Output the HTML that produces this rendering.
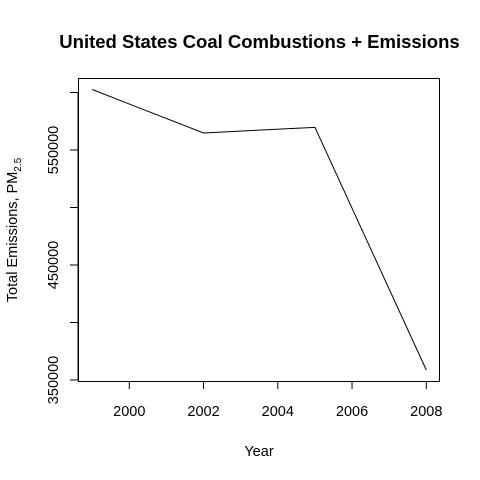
<!DOCTYPE html>
<html><head><meta charset="utf-8"><style>body{margin:0;background:#fff}svg{display:block;font-family:"Liberation Sans",Arial,sans-serif}</style></head>
<body>
<svg id="chart" width="480" height="480" xmlns="http://www.w3.org/2000/svg">
<text x="259.5" y="48" text-anchor="middle" font-size="18.5" font-weight="bold">United States Coal Combustions + Emissions</text>
<rect x="78.5" y="78.5" width="361" height="303" fill="none" stroke="#000"/>
<text x="259" y="456" text-anchor="middle" font-size="14.5">Year</text>
<text transform="translate(17,230) rotate(-90)" text-anchor="middle" font-size="14.5">Total Emissions, PM<tspan font-size="10" dy="4">2.5</tspan></text>
<g id="axes"></g>
<polyline id="line" fill="none" stroke="#000" stroke-width="1"/>
</svg>
<script>
const years = [1999, 2002, 2005, 2008];
const emissions = [602600, 564800, 569700, 358700];
const xTicks = [2000, 2002, 2004, 2006, 2008];
const yTicks = [350000, 400000, 450000, 500000, 550000, 600000];
const yLabels = [350000, 450000, 550000];
const NS = "http://www.w3.org/2000/svg";
function xs(v){return 129.3 + (v-2000)*37.125;}
function ys(v){return 380 - (v-350000)*0.00115;}
const g = document.getElementById('axes');
function mk(tag, attrs){const e=document.createElementNS(NS,tag);for(const k in attrs)e.setAttribute(k,attrs[k]);return e;}
xTicks.forEach(t=>{
  const l=mk('line',{x1:xs(t),x2:xs(t),y1:382,y2:389,stroke:'#000'});
  
  
  g.appendChild(l);
  const tx=mk('text',{x:xs(t),y:416,'text-anchor':'middle','font-size':'14.5'});
  
  
  tx.textContent=t;g.appendChild(tx);
});
const ax=mk('line',{x1:78,x2:78,y1:ys(350000),y2:ys(600000),stroke:'#000'});


g.appendChild(ax);
yTicks.forEach(t=>{
  const l=mk('line',{x1:70,x2:78,y1:ys(t),y2:ys(t),stroke:'#000'});
  
  
  g.appendChild(l);
});
yLabels.forEach(t=>{
  const tx=mk('text',{transform:`translate(58,${ys(t)}) rotate(-90)`,'text-anchor':'middle','font-size':'14.5'});
  
  
  tx.textContent=t;g.appendChild(tx);
});
document.getElementById('line').setAttribute('points', years.map((y,i)=>xs(y)+','+ys(emissions[i])).join(' '));
</script>
</body></html>
